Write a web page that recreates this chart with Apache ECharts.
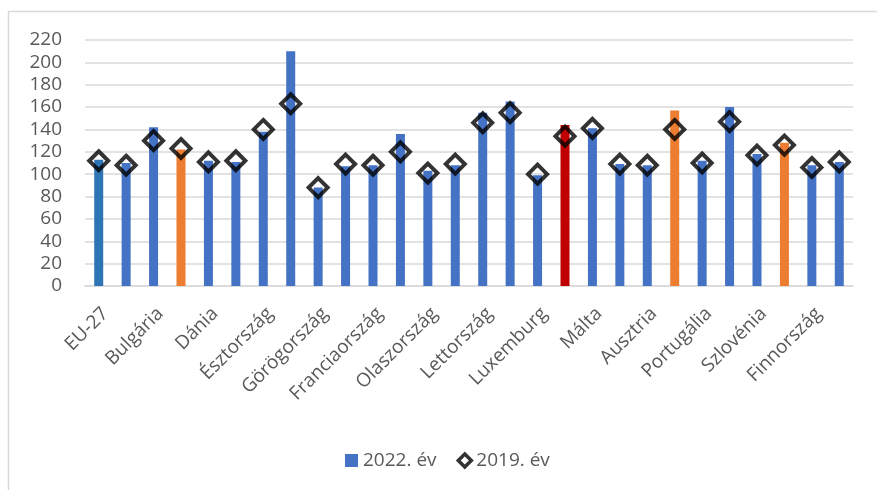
<!DOCTYPE html>
<html>
<head>
<meta charset="utf-8">
<script src="https://cdn.jsdelivr.net/npm/echarts@6/dist/echarts.min.js"></script>
<style>
  html, body { margin: 0; padding: 0; background: #fff; }
  #chart { width: 877px; height: 490px; }
</style>
</head>
<body>
<div id="chart"></div>
<script>
const categories = ['EU-27','Belgium','Bulgária','Csehország','Dánia','Németország','Észtország','Írország','Görögország','Spanyolország','Franciaország','Horvátország','Olaszország','Ciprus','Lettország','Litvánia','Luxemburg','Magyarország','Málta','Hollandia','Ausztria','Lengyelország','Portugália','Románia','Szlovénia','Szlovákia','Finnország','Svédország'];
const values2022 = [113,110,142,122,112,111,138,210,88,107,108,136,103,108,155,165,99,144,141,109,108,157,112,160,118,128,108,111];
const values2019 = [112,108,130,123,111,112,140,163,88,109,108,120,101,109,146,155,100,134,141,109,108,140,110,147,117,126,106,111];
const yTicks = [0,20,40,60,80,100,120,140,160,180,200,220];
const seriesNames = ['2022. év', '2019. év'];

const euGroup = ['EU-27'];
const v4Group = ['Csehország','Lengyelország','Szlovákia'];
const huGroup = ['Magyarország'];

function barColor(name) {
  if (euGroup.includes(name)) return '#2E75B6';
  if (huGroup.includes(name)) return '#C00000';
  if (v4Group.includes(name)) return '#ED7D31';
  return '#4472C4';
}

const FONT = 'Open Sans';
const TXT = '#595959';

const chart = echarts.init(document.getElementById('chart'));
chart.setOption({
  animation: false,
  backgroundColor: '#fff',
  textStyle: { fontFamily: FONT },
  graphic: [{
    type: 'rect',
    shape: { x: 8.5, y: 11.5, width: 900, height: 520 },
    style: { fill: 'none', stroke: '#d9d9d9', lineWidth: 1.5 },
    silent: true
  }],
  grid: { left: 85, right: 24, top: 40, bottom: 204, containLabel: false },
  legend: {
    left: 340,
    top: 446,
    itemWidth: 13,
    itemHeight: 13,
    itemGap: 20,
    textStyle: { fontFamily: FONT, fontSize: 19, color: TXT },
    data: [
      { name: seriesNames[0], icon: 'rect' },
      { name: seriesNames[1], icon: 'diamond', itemStyle: { color: '#fff', borderColor: '#000', borderWidth: 3.5 } }
    ]
  },
  xAxis: {
    type: 'category',
    data: categories,
    axisLine: { lineStyle: { color: '#d9d9d9', width: 1.5 } },
    axisTick: { show: false },
    axisLabel: {
      interval: 1,
      rotate: 45,
      margin: 18,
      verticalAlign: 'top',
      fontFamily: FONT,
      fontSize: 19,
      color: TXT
    }
  },
  yAxis: {
    type: 'value',
    min: yTicks[0],
    max: yTicks[yTicks.length - 1],
    interval: yTicks[1] - yTicks[0],
    axisLine: { show: false },
    axisTick: { show: false },
    splitLine: { lineStyle: { color: '#d9d9d9', width: 1.5 } },
    axisLabel: { margin: 23, fontFamily: FONT, fontSize: 19, color: TXT }
  },
  series: [
    {
      name: seriesNames[0],
      type: 'bar',
      barWidth: 9,
      itemStyle: { color: '#4472C4' },
      data: values2022.map((v, i) => ({ value: v, itemStyle: { color: barColor(categories[i]) } }))
    },
    {
      name: seriesNames[1],
      type: 'scatter',
      symbol: 'diamond',
      symbolSize: 19,
      itemStyle: { color: 'rgba(255,255,255,0)', borderColor: '#000', borderWidth: 4 },
      data: values2019,
      z: 5
    }
  ]
});
</script>
</body>
</html>
